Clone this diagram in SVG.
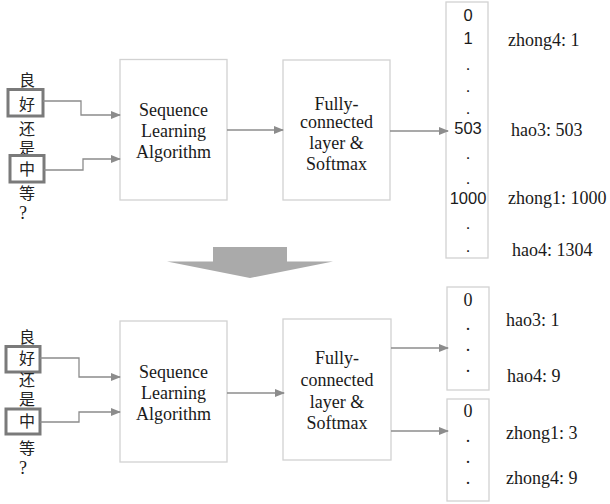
<svg xmlns="http://www.w3.org/2000/svg" width="610" height="504" viewBox="0 0 610 504">
  <style>
    .box { fill: #ffffff; stroke: #d2d2d2; stroke-width: 1.3; }
    .hl { fill: none; stroke: #7a7a7a; stroke-width: 3; }
    .conn { fill: none; stroke: #8c8c8c; stroke-width: 1.3; }
    .serif { font-family: "Liberation Serif", "Times New Roman", serif; font-size: 18px; fill: #1a1a1a; }
    .mid { text-anchor: middle; }
    .cjk { font-family: "Noto Sans CJK SC", "Noto Sans CJK JP", sans-serif; font-size: 16px; fill: #222222; text-anchor: middle; }
    .num { font-family: "Liberation Sans", Arial, sans-serif; font-size: 16.5px; fill: #1a1a1a; text-anchor: middle; }
  </style>
  <defs>
    <marker id="arr" markerWidth="10" markerHeight="8" refX="9" refY="4" orient="auto" markerUnits="userSpaceOnUse">
      <path d="M0,0 L10,4 L0,8 Z" fill="#8c8c8c"/>
    </marker>
  </defs>

  <rect width="610" height="504" fill="#ffffff"/>

  <!-- ===== Top: full vocabulary output ===== -->
  <g id="input-top">
    <text class="cjk" x="27" y="86">良</text>
    <rect class="hl" x="8" y="89.5" width="35" height="26.5"/>
    <text class="cjk" x="27" y="110">好</text>
    <text class="cjk" x="27" y="135">还</text>
    <text class="cjk" x="27" y="154">是</text>
    <rect class="hl" x="10" y="155.5" width="34" height="26.5"/>
    <text class="cjk" x="27" y="175">中</text>
    <text class="cjk" x="27" y="199">等</text>
    <text class="serif mid" x="23" y="219">?</text>
  </g>

  <g id="sla-top">
    <rect class="box" x="120" y="59.5" width="107" height="140.5"/>
    <text class="serif mid" x="173.5" y="116">Sequence</text>
    <text class="serif mid" x="173.5" y="137">Learning</text>
    <text class="serif mid" x="173.5" y="158">Algorithm</text>
  </g>

  <g id="fc-top">
    <rect class="box" x="283" y="60" width="107" height="140"/>
    <text class="serif mid" x="336.5" y="110">Fully-</text>
    <text class="serif mid" x="336.5" y="128">connected</text>
    <text class="serif mid" x="336.5" y="149">layer &amp;</text>
    <text class="serif mid" x="336.5" y="170">Softmax</text>
  </g>

  <g id="vector-top">
    <rect class="box" x="446" y="2" width="42" height="256"/>
    <text class="num" x="468" y="21">0</text>
    <text class="num" x="468" y="44">1</text>
    <text class="num" x="468" y="70">.</text>
    <text class="num" x="468" y="92">.</text>
    <text class="num" x="468" y="114">.</text>
    <text class="num" x="468" y="134">503</text>
    <text class="num" x="468" y="159">.</text>
    <text class="num" x="468" y="184">.</text>
    <text class="num" x="468" y="204">1000</text>
    <text class="num" x="468" y="229">.</text>
    <text class="num" x="468" y="252">.</text>
  </g>

  <g id="labels-top">
    <text class="serif" x="508" y="46">zhong4: 1</text>
    <text class="serif" x="511" y="136">hao3: 503</text>
    <text class="serif" x="508" y="204">zhong1: 1000</text>
    <text class="serif" x="512" y="256">hao4: 1304</text>
  </g>

  <!-- transition arrow between the two setups -->
  <g id="down-arrow">
    <path d="M213,247 H287 V261.5 H333 L250,278 L167,261.5 H213 Z" fill="#aaaaaa"/>
  </g>

  <!-- ===== Bottom: split output heads ===== -->
  <g id="input-bottom">
    <text class="cjk" x="27" y="343">良</text>
    <text class="cjk" x="27" y="405">是</text>
    <rect class="hl" x="6" y="346.5" width="34" height="25.5"/>
    <text class="cjk" x="27" y="364">好</text>
    <text class="cjk" x="27" y="386">还</text>
    <rect class="hl" x="6" y="409" width="34" height="25"/>
    <text class="cjk" x="27" y="427">中</text>
    <text class="cjk" x="27" y="454">等</text>
    <text class="serif mid" x="23" y="474">?</text>
  </g>

  <g id="sla-bottom">
    <rect class="box" x="120" y="321" width="107" height="141"/>
    <text class="serif mid" x="173.5" y="378">Sequence</text>
    <text class="serif mid" x="173.5" y="399">Learning</text>
    <text class="serif mid" x="173.5" y="420">Algorithm</text>
  </g>

  <g id="fc-bottom">
    <rect class="box" x="283" y="319" width="108" height="141"/>
    <text class="serif mid" x="337" y="364">Fully-</text>
    <text class="serif mid" x="337" y="386">connected</text>
    <text class="serif mid" x="337" y="408">layer &amp;</text>
    <text class="serif mid" x="337" y="429">Softmax</text>
  </g>

  <g id="vector-bottom-1">
    <rect class="box" x="447" y="287" width="42" height="103"/>
    <text class="serif mid" x="468" y="306">0</text>
    <text class="serif mid" x="468" y="330">.</text>
    <text class="serif mid" x="468" y="351">.</text>
    <text class="serif mid" x="468" y="372">.</text>
  </g>

  <g id="vector-bottom-2">
    <rect class="box" x="447" y="399" width="42" height="102"/>
    <text class="serif mid" x="468" y="417">0</text>
    <text class="serif mid" x="468" y="442">.</text>
    <text class="serif mid" x="468" y="463">.</text>
    <text class="serif mid" x="468" y="484">.</text>
  </g>

  <g id="labels-bottom">
    <text class="serif" x="506" y="326">hao3: 1</text>
    <text class="serif" x="507" y="382">hao4: 9</text>
    <text class="serif" x="506" y="439">zhong1: 3</text>
    <text class="serif" x="506" y="484">zhong4: 9</text>
  </g>

  <g id="connectors">
    <!-- top -->
    <path class="conn" d="M43,101 H81 V115 H120" marker-end="url(#arr)"/>
    <path class="conn" d="M44,170 H83 V159 H120" marker-end="url(#arr)"/>
    <path class="conn" d="M227,130 H283" marker-end="url(#arr)"/>
    <path class="conn" d="M390,131 H448" marker-end="url(#arr)"/>
    <!-- bottom -->
    <path class="conn" d="M40,358 H79 V377 H120" marker-end="url(#arr)"/>
    <path class="conn" d="M40,422 H79 V412 H120" marker-end="url(#arr)"/>
    <path class="conn" d="M227,393 H284" marker-end="url(#arr)"/>
    <path class="conn" d="M391,348 H448" marker-end="url(#arr)"/>
    <path class="conn" d="M391,431 H448" marker-end="url(#arr)"/>
  </g>
</svg>
